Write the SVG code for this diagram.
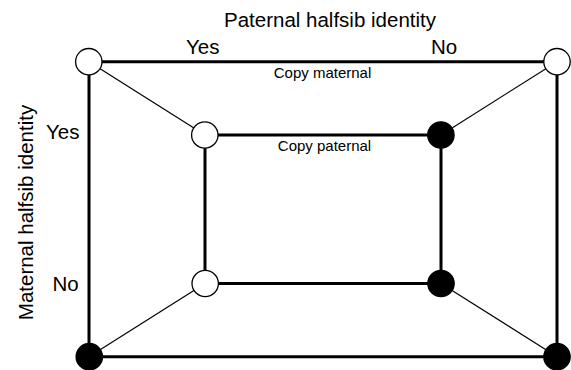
<svg xmlns="http://www.w3.org/2000/svg" width="571" height="370" viewBox="0 0 571 370">
<style>
.thick{stroke:#000;stroke-width:3;fill:none}
.thin{stroke:#000;stroke-width:1.2;fill:none}
.open{fill:#fff;stroke:#000;stroke-width:1.3}
.filled{fill:#000;stroke:#000;stroke-width:1.3}
text{font-family:"Liberation Sans",Arial,sans-serif;fill:#000}
.big{font-size:20.5px}
.small{font-size:15px}
</style>
<rect width="571" height="370" fill="#fff"/>
<g id="connectors">
<line class="thick" x1="89" y1="61.7" x2="557" y2="61.7"/>
<line class="thick" x1="89" y1="61.7" x2="89" y2="356.7"/>
<line class="thick" x1="557" y1="61.7" x2="557" y2="356.7"/>
<line class="thick" x1="89" y1="356.7" x2="557" y2="356.7"/>
<line class="thick" x1="205" y1="135" x2="441" y2="135"/>
<line class="thick" x1="205" y1="135" x2="205" y2="283.5"/>
<line class="thick" x1="441" y1="135" x2="441" y2="283.5"/>
<line class="thick" x1="205" y1="283.5" x2="441" y2="283.5"/>
<line class="thin" x1="89" y1="61.7" x2="205" y2="135"/>
<line class="thin" x1="557" y1="61.7" x2="441" y2="135"/>
<line class="thin" x1="89" y1="356.7" x2="205" y2="283.5"/>
<line class="thin" x1="557" y1="356.7" x2="441" y2="283.5"/>
</g>
<g id="node-outer-tl"><circle class="open" cx="88.8" cy="61.7" r="13.2"/></g>
<g id="node-outer-tr"><circle class="open" cx="557" cy="61.7" r="13.2"/></g>
<g id="node-outer-bl"><circle class="filled" cx="89.3" cy="356.7" r="13.2"/></g>
<g id="node-outer-br"><circle class="filled" cx="557" cy="356.7" r="13.2"/></g>
<g id="node-inner-tl"><circle class="open" cx="204.8" cy="135" r="13.2"/></g>
<g id="node-inner-tr"><circle class="filled" cx="440.9" cy="135" r="13.2"/></g>
<g id="node-inner-bl"><circle class="open" cx="205.2" cy="283.5" r="13.2"/></g>
<g id="node-inner-br"><circle class="filled" cx="441" cy="283.5" r="13.2"/></g>
<g id="labels">
<text class="big" x="330" y="27" text-anchor="middle">Paternal halfsib identity</text>
<text class="big" x="186" y="54">Yes</text>
<text class="big" x="431" y="54">No</text>
<text class="small" x="322.5" y="77.5" text-anchor="middle">Copy maternal</text>
<text class="small" x="324.5" y="151" text-anchor="middle">Copy paternal</text>
<text class="big" x="46" y="138.5">Yes</text>
<text class="big" x="52.5" y="291">No</text>
<text class="big" transform="translate(33,212.5) rotate(-90)" text-anchor="middle">Maternal halfsib identity</text>
</g>
</svg>
